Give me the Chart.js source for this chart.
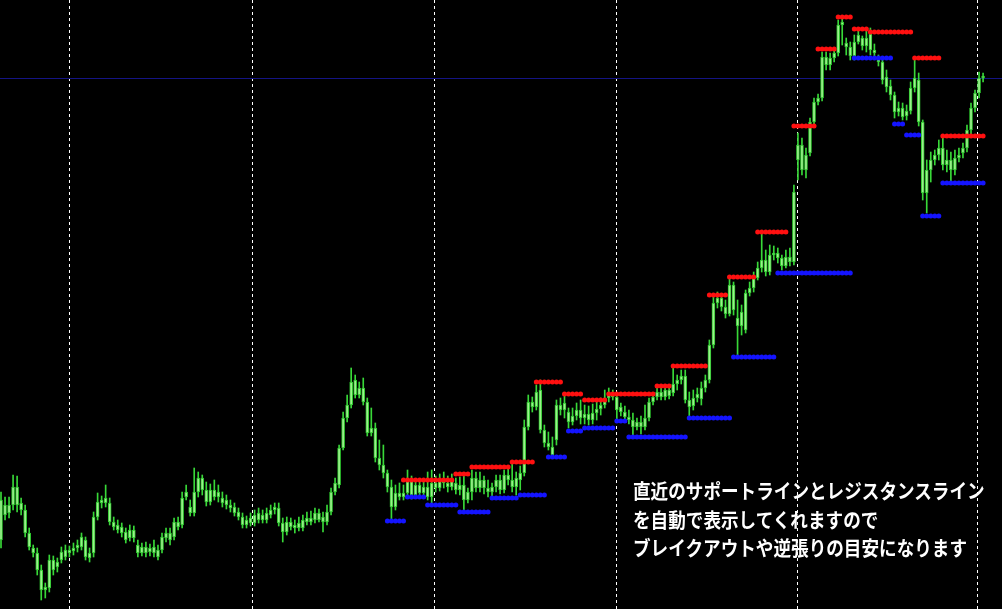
<!DOCTYPE html>
<html lang="ja">
<head>
<meta charset="utf-8">
<title>サポートライン・レジスタンスライン</title>
<script src="https://cdn.jsdelivr.net/npm/chart.js@4.4.1/dist/chart.umd.min.js"></script>
<style>
  html, body { margin: 0; padding: 0; background: #000; }
  #wrap { position: relative; width: 1002px; height: 609px; background: #000; overflow: hidden; }
  #nota {
    position: absolute; left: 633px; top: 477px;
    color: #fff; font-family: "Noto Sans CJK JP", sans-serif; font-weight: 700;
    font-size: 20px; line-height: 28.5px; white-space: nowrap;
    transform: scaleX(0.88); transform-origin: left top;
  }
</style>
</head>
<body>
<div id="wrap">
  <canvas id="grafico" width="1002" height="609"></canvas>
  <div id="nota">
    <div>直近のサポートラインとレジスタンスライン</div>
    <div>を自動で表示してくれますので</div>
    <div>ブレイクアウトや逆張りの目安になります</div>
  </div>
</div>
<script>
// velas (OHLC), una por barra
const opens = [
  69, 104, 96, 104, 122, 106, 99, 76, 61, 56,
  39, 19, 21, 49, 42, 49, 52, 59, 58, 61,
  62, 69, 56, 56, 92, 106, 106, 106, 87, 84,
  82, 77, 71, 79, 64, 62, 56, 61, 62, 59,
  59, 71, 76, 72, 87, 84, 112, 102, 96, 117,
  131, 119, 107, 119, 112, 111, 109, 104, 102, 97,
  92, 84, 91, 86, 96, 89, 96, 94, 99, 101,
  86, 77, 87, 84, 81, 81, 87, 91, 89, 96,
  92, 87, 97, 117, 124, 161, 191, 204, 229, 214,
  221, 207, 176, 181, 151, 144, 136, 122, 102, 116,
  112, 116, 129, 114, 124, 116, 122, 112, 126, 121,
  129, 126, 122, 126, 119, 124, 109, 117, 131, 121,
  129, 121, 117, 122, 129, 119, 134, 129, 122, 129,
  136, 182, 207, 202, 219, 179, 166, 162, 169, 204,
  199, 197, 187, 193, 199, 191, 195, 189, 196, 200,
  204, 211, 215, 212, 202, 197, 192, 189, 182, 187,
  182, 191, 207, 212, 217, 212, 219, 216, 225, 229,
  233, 209, 203, 211, 210, 221, 229, 264, 306, 311,
  302, 295, 324, 291, 283, 279, 316, 321, 331, 341,
  349, 337, 354, 356, 351, 343, 352, 347, 449, 464,
  439, 456, 487, 507, 511, 552, 544, 551, 556, 584,
  566, 562, 553, 567, 571, 563, 575, 559, 551, 547,
  532, 523, 514, 497, 501, 493, 498, 521, 529, 487,
  416, 439, 449, 454, 461, 444, 449, 439, 451, 456,
  461, 479, 501, 516, 531
];
const highs = [
  117, 112, 112, 134, 133, 111, 104, 81, 64, 61,
  44, 26, 54, 53, 51, 62, 64, 63, 66, 69,
  76, 72, 61, 97, 116, 113, 124, 111, 92, 89,
  86, 81, 84, 83, 69, 66, 67, 65, 69, 64,
  76, 81, 81, 91, 92, 117, 124, 109, 141, 137,
  134, 127, 125, 129, 124, 117, 114, 109, 106, 101,
  96, 93, 96, 99, 101, 99, 101, 104, 106, 106,
  91, 92, 91, 89, 92, 94, 97, 98, 101, 100,
  97, 104, 121, 131, 164, 197, 214, 241, 234, 227,
  231, 211, 201, 186, 169, 164, 139, 129, 124, 126,
  124, 139, 133, 129, 128, 127, 137, 139, 133, 135,
  137, 133, 135, 131, 132, 133, 121, 139, 137, 137,
  133, 129, 126, 134, 134, 139, 141, 146, 137, 143,
  189, 214, 212, 224, 229, 184, 177, 172, 209, 211,
  214, 201, 201, 206, 209, 204, 203, 205, 209, 211,
  219, 221, 219, 213, 206, 203, 199, 196, 191, 193,
  204, 211, 216, 221, 223, 224, 223, 242, 234, 239,
  239, 217, 219, 221, 227, 234, 269, 314, 317, 313,
  309, 331, 327, 309, 304, 319, 327, 337, 347, 376,
  359, 364, 363, 361, 354, 359, 361, 424, 476, 471,
  461, 491, 511, 515, 557, 557, 556, 561, 589, 592,
  571, 567, 574, 579, 573, 579, 581, 565, 554, 551,
  539, 529, 517, 507, 506, 504, 527, 551, 536, 489,
  449, 457, 459, 469, 474, 459, 457, 459, 461, 466,
  484, 506, 519, 537, 536
];
const lows = [
  61, 89, 91, 99, 97, 94, 72, 59, 52, 34,
  9, 11, 17, 34, 37, 46, 49, 52, 54, 57,
  59, 49, 47, 52, 89, 101, 102, 84, 79, 76,
  72, 66, 68, 67, 52, 53, 52, 53, 52, 49,
  56, 67, 64, 69, 79, 81, 109, 93, 93, 112,
  114, 103, 104, 109, 107, 102, 100, 97, 93, 89,
  81, 81, 83, 83, 86, 86, 86, 91, 95, 83,
  67, 74, 79, 76, 78, 78, 84, 84, 86, 87,
  77, 84, 94, 114, 121, 159, 187, 201, 211, 211,
  204, 173, 173, 147, 139, 131, 117, 89, 99, 109,
  109, 112, 110, 111, 112, 113, 109, 106, 117, 118,
  121, 117, 119, 115, 114, 97, 106, 109, 117, 117,
  115, 112, 111, 117, 115, 116, 124, 117, 114, 119,
  133, 179, 197, 199, 176, 162, 159, 151, 164, 194,
  191, 181, 184, 189, 185, 185, 184, 185, 189, 194,
  201, 207, 209, 187, 193, 189, 185, 172, 179, 175,
  179, 188, 204, 209, 209, 209, 210, 213, 219, 225,
  206, 191, 199, 207, 204, 217, 226, 261, 301, 298,
  291, 293, 294, 252, 274, 276, 313, 317, 329, 337,
  333, 334, 349, 346, 339, 341, 343, 344, 429, 434,
  431, 453, 484, 504, 508, 539, 539, 547, 553, 564,
  554, 549, 549, 565, 559, 557, 554, 551, 543, 525,
  517, 509, 491, 493, 489, 489, 495, 517, 483, 409,
  396, 427, 444, 449, 439, 437, 426, 434, 447, 451,
  457, 475, 497, 511, 527
];
const closes = [
  109, 94, 104, 122, 104, 99, 76, 62, 56, 39,
  19, 22, 49, 39, 47, 57, 59, 56, 61, 64,
  72, 52, 51, 92, 107, 109, 111, 87, 82, 79,
  76, 69, 79, 71, 56, 56, 62, 57, 56, 52,
  72, 76, 69, 87, 82, 111, 117, 96, 117, 131,
  119, 107, 119, 112, 117, 106, 104, 101, 96, 92,
  84, 89, 86, 94, 89, 94, 89, 99, 102, 86,
  77, 87, 82, 81, 86, 89, 91, 87, 96, 89,
  87, 97, 117, 126, 161, 191, 204, 227, 214, 221,
  207, 176, 181, 151, 144, 136, 122, 102, 116, 112,
  116, 129, 114, 124, 116, 122, 112, 126, 121, 129,
  126, 122, 129, 119, 124, 109, 117, 131, 121, 129,
  121, 117, 122, 129, 119, 134, 129, 122, 131, 136,
  182, 207, 202, 217, 179, 166, 162, 154, 204, 199,
  206, 187, 193, 199, 191, 195, 189, 196, 200, 204,
  211, 215, 212, 199, 197, 192, 189, 182, 187, 182,
  191, 207, 212, 217, 212, 219, 213, 225, 229, 233,
  209, 202, 211, 215, 221, 229, 264, 306, 311, 302,
  295, 324, 299, 283, 297, 316, 321, 331, 341, 349,
  337, 354, 356, 351, 343, 352, 347, 417, 464, 439,
  454, 487, 507, 511, 552, 544, 551, 556, 584, 587,
  562, 553, 567, 574, 563, 571, 559, 556, 547, 529,
  522, 514, 497, 501, 492, 498, 521, 531, 487, 416,
  439, 449, 454, 461, 444, 449, 439, 451, 454, 461,
  479, 501, 516, 531, 533
];

// resistencias (rojo) y soportes (azul): barra inicial, barra final, nivel
const resistFrom  = [100, 113, 117, 127, 133, 140, 145, 151, 163, 167, 176, 181, 188, 197, 203, 208, 212, 216, 227, 234];
const resistTo    = [112, 116, 126, 132, 139, 144, 150, 162, 166, 175, 180, 187, 195, 202, 207, 211, 215, 226, 233, 244];
const resistLevel = [129, 135, 142, 147, 227, 215, 209, 215, 223, 243, 314, 332, 377, 483, 560, 592, 580, 577, 551, 473];

const supportFrom  = [96, 101, 106, 114, 122, 129, 136, 141, 145, 153, 156, 171, 182, 193, 212, 222, 225, 229, 234];
const supportTo    = [100, 105, 113, 121, 128, 135, 140, 144, 152, 155, 170, 181, 192, 211, 221, 224, 228, 233, 244];
const supportLevel = [88, 112, 104, 97, 111, 114, 152, 178, 181, 188, 172, 191, 252, 336, 551, 485, 474, 393, 426];

// separadores de periodo y linea de precio actual
const separators = [17.1, 62.6, 107.6, 152.8, 197.8, 242.7];
const priceLine = 530;

function segmentPoints(from, to, level) {
  const pts = [];
  for (let s = 0; s < from.length; s++) {
    for (let i = from[s]; i <= to[s]; i++) {
      pts.push({ x: i, y: level[s] });
    }
  }
  return pts;
}

const wicks = highs.map((h, i) => ({ x: i, y: [lows[i], h] }));
const bodies = opens.map((o, i) => ({ x: i, y: [o, closes[i]] }));

new Chart(document.getElementById('grafico'), {
  type: 'bar',
  data: {
    datasets: [
      {
        type: 'line',
        data: segmentPoints(resistFrom, resistTo, resistLevel),
        showLine: false,
        pointRadius: 2.5,
        pointBorderWidth: 0,
        pointBackgroundColor: '#ff1010',
        order: 0
      },
      {
        type: 'line',
        data: segmentPoints(supportFrom, supportTo, supportLevel),
        showLine: false,
        pointRadius: 2.5,
        pointBorderWidth: 0,
        pointBackgroundColor: '#1414ff',
        order: 0
      },
      {
        data: bodies,
        grouped: false,
        barThickness: 3,
        minBarLength: 1,
        backgroundColor: '#9cf08c',
        borderColor: '#2ec82e',
        borderWidth: 1,
        borderSkipped: false,
        order: 1
      },
      {
        data: wicks,
        grouped: false,
        barThickness: 1,
        backgroundColor: '#38d838',
        borderWidth: 0,
        order: 2
      }
    ]
  },
  options: {
    responsive: false,
    animation: false,
    events: [],
    layout: { padding: 0, autoPadding: false },
    plugins: {
      legend: { display: false },
      tooltip: { enabled: false }
    },
    scales: {
      x: {
        type: 'linear',
        min: -0.25,
        max: 248.7,
        offset: false,
        afterBuildTicks: (axis) => { axis.ticks = separators.map(v => ({ value: v })); },
        afterFit: (axis) => { axis.height = 0; },
        ticks: { display: false },
        grid: { color: '#ffffff', lineWidth: 1, offset: false, drawTicks: false, tickLength: 0 },
        border: { display: false, dash: [3, 3] }
      },
      y: {
        min: 0,
        max: 609,
        afterBuildTicks: (axis) => { axis.ticks = [{ value: priceLine }]; },
        afterFit: (axis) => { axis.width = 0; },
        ticks: { display: false },
        grid: { color: '#141484', lineWidth: 1, drawTicks: false, tickLength: 0 },
        border: { display: false }
      }
    }
  }
});
</script>
</body>
</html>
